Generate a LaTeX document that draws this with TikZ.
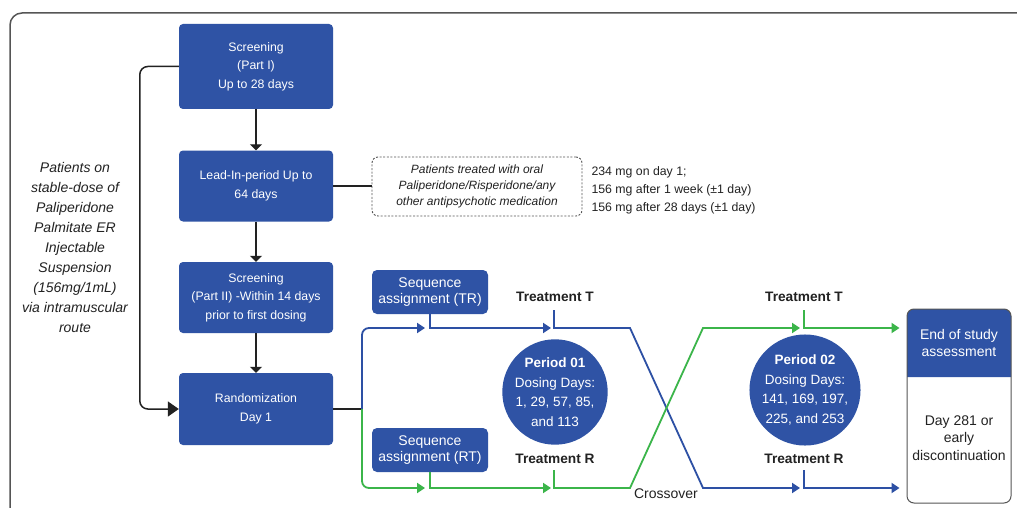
\documentclass[tikz,border=0pt]{standalone}
\usepackage{fontspec}
\setmainfont{Liberation Sans}
\usetikzlibrary{arrows.meta,calc}
\definecolor{boxblue}{HTML}{2F53A5}
\definecolor{lnblue}{HTML}{2D50A4}
\definecolor{lngreen}{HTML}{3BB54A}
\definecolor{framegray}{HTML}{555555}
\definecolor{txt}{HTML}{222222}
\begin{document}
\begin{tikzpicture}[x=1pt,y=-1pt,
  blbox/.style={fill=boxblue, rounded corners=4, text=white, align=center,
    font=\fontsize{12.3}{18.5}\selectfont, minimum width=154, inner sep=2},
  seqbox/.style={fill=boxblue, rounded corners=5, text=white, align=center,
    font=\fontsize{14}{16}\selectfont, minimum width=116, minimum height=44, inner sep=1},
  period/.style={circle, fill=boxblue, text=white, align=center, minimum size=105, inner sep=0,
    font=\fontsize{13.5}{19.5}\selectfont},
  treat/.style={font=\bfseries\fontsize{13.7}{15}\selectfont, text=txt},
  blkarrow/.style={draw=txt, line width=1.3, -{Triangle[length=6,width=12]}},
  blkline/.style={draw=txt, line width=1.3},
  bline/.style={draw=lnblue, line width=1.8},
  gline/.style={draw=lngreen, line width=1.8},
  carrow/.style={-{Triangle[length=8,width=10]}}
]
\useasboundingbox (0,0) rectangle (1017,508);
\clip (0,0) rectangle (1017,508);
\fill[white] (0,0) rectangle (1017,508);
% outer frame
\draw[framegray, line width=1.5, rounded corners=12] (10,540) -- (10,13) -- (1040,13);

% left column boxes
\node[blbox, minimum height=85] (s1) at (256,66.5) {Screening\\(Part I)\\Up to 28 days};
\node[blbox, minimum height=71] (li) at (256,186) {Lead-In-period Up to\\64 days};
\node[blbox, minimum height=71] (s2) at (256,297.5) {Screening\\(Part II) -Within 14 days\\prior to first dosing};
\node[blbox, minimum height=72] (rand) at (256,409) {Randomization\\Day 1};

\draw[blkarrow] (s1.south) -- (li.north);
\draw[blkarrow] (li.south) -- (s2.north);
\draw[blkarrow] (s2.south) -- (rand.north);
\draw[draw=txt, line width=1.5, rounded corners=8, -{Triangle[length=11,width=15]}]
  (s1.west) -- ++(-39,0) |- (rand.west);

% left description
\node[font=\itshape\fontsize{14}{20}\selectfont, align=center, text=txt] (desc) at (75,247)
  {Patients on\\stable-dose of\\Paliperidone\\Palmitate ER\\Injectable\\Suspension\\(156mg/1mL)\\via intramuscular\\route};

% dashed box and dosing
\node[draw=framegray, dash pattern=on 2pt off 1.6pt, line width=0.9, rounded corners=6,
  minimum width=210, minimum height=59, align=center, text=txt,
  font=\itshape\fontsize{12}{16}\selectfont] (oral) at (477,186.5)
  {Patients treated with oral\\Paliperidone/Risperidone/any\\other antipsychotic medication};
\draw[blkline] (li.east) -- (li.east -| oral.west);
\node[anchor=west, align=left, text=txt, font=\fontsize{12.3}{18}\selectfont] (dose) at (588,190)
  {234 mg on day 1;\\156 mg after 1 week (±1 day)\\156 mg after 28 days (±1 day)};

% sequence boxes
\node[seqbox] (tr) at (430,292) {Sequence\\assignment (TR)};
\node[seqbox] (rt) at (430,450) {Sequence\\assignment (RT)};

% treatment labels
\node[treat] (tT1) at (555,297) {Treatment T};
\node[treat] (tR1) at (555,459) {Treatment R};
\node[treat] (tT2) at (804,297) {Treatment T};
\node[treat] (tR2) at (804,459) {Treatment R};

% periods
\node[period] (p1) at (555,392) {\textbf{Period 01}\\Dosing Days:\\1, 29, 57, 85,\\and 113};
\node[period] (p2) at (805,390) {\textbf{Period 02}\\Dosing Days:\\141, 169, 197,\\225, and 253};

\node[text=txt, font=\fontsize{14}{16}\selectfont] (cross) at (666,494) {Crossover};

% end of study
\fill[boxblue] (907,377) [rounded corners=7] -- (907,309) -- (1011,309) [sharp corners] -- (1011,377) -- cycle;
\node[draw=framegray, line width=1, rounded corners=7, minimum width=104, minimum height=194] (eos) at (959,406) {};
\node[text=white, align=center, font=\fontsize{14}{17}\selectfont] (eost) at (959,343) {End of study\\assessment};
\node[text=txt, align=center, font=\fontsize{14}{17.5}\selectfont] (eosb) at (959,438) {Day 281 or\\early\\discontinuation};

% coordinates
\coordinate (split) at (362,409);
\coordinate (inTR) at (425,328);
\coordinate (inRT) at (425,488);
\coordinate (a1T) at (551,328);
\coordinate (a1R) at (551,488);
\coordinate (v1T) at (554,310);
\coordinate (v1R) at (554,470);
\coordinate (x1T) at (630,328);
\coordinate (x1R) at (630,488);
\coordinate (x2T) at (703,328);
\coordinate (x2R) at (703,488);
\coordinate (a2T) at (800,328);
\coordinate (a2R) at (800,488);
\coordinate (v2T) at (804,310);
\coordinate (v2R) at (804,470);
\coordinate (eT) at (eos.west |- a2T);
\coordinate (eR) at (eos.west |- a2R);

% randomization branches
\draw[blkline] (rand.east) -- (split);
\draw[bline, rounded corners=7, carrow] (split) |- (inTR);
\draw[gline, rounded corners=7, carrow] (split) |- (inRT);
\draw[bline, carrow] (tr.south) |- (a1T);
\draw[gline, carrow] (rt.south) |- (a1R);

% crossover
\draw[bline, carrow] (v1T) |- (x1T) -- (x2R) -- (a2R);
\draw[gline, carrow] (v1R) |- (x1R) -- (x2T) -- (a2T);
\draw[gline, carrow] (v2T) |- ([xshift=-7]eT);
\draw[bline, carrow] (v2R) |- ([xshift=-7]eR);
\end{tikzpicture}
\end{document}
